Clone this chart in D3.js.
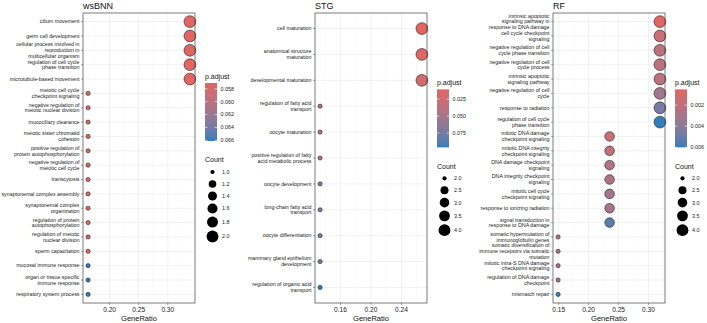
<!DOCTYPE html>
<html>
<head>
<meta charset="utf-8">
<script src="https://cdn.jsdelivr.net/npm/d3@7"></script>
<style>
  body { margin: 0; background: #fff; }
  svg { display: block; font-family: "Liberation Sans", Arial, sans-serif; }
</style>
</head>
<body>
<div id="chart"></div>
<script>
// ---- data ----
var wsbnnTerms = [
  "cilium movement", "germ cell development",
  "cellular process involved in\nreproduction in\nmulticellular organism",
  "regulation of cell cycle\nphase transition", "microtubule-based movement",
  "meiotic cell cycle\ncheckpoint signaling", "negative regulation of\nmeiotic nuclear division",
  "mucociliary clearance", "meiotic sister chromatid\ncohesion",
  "positive regulation of\nprotein autophosphorylation", "negative regulation of\nmeiotic cell cycle",
  "transcytosis", "synaptonemal complex assembly", "synaptonemal complex\norganization",
  "regulation of protein\nautophosphorylation", "regulation of meiotic\nnuclear division",
  "sperm capacitation", "mucosal immune response", "organ or tissue specific\nimmune response",
  "respiratory system process"];
var wsbnnRatio = [0.338, 0.338, 0.338, 0.338, 0.338, 0.163, 0.163, 0.163, 0.163, 0.163,
                  0.163, 0.163, 0.163, 0.163, 0.163, 0.163, 0.163, 0.163, 0.163, 0.163];
var wsbnnCount = [2, 2, 2, 2, 2, 1, 1, 1, 1, 1, 1, 1, 1, 1, 1, 1, 1, 1, 1, 1];
var wsbnnPadj = [0.0571, 0.0571, 0.0571, 0.0571, 0.0571, 0.0572, 0.0572, 0.0572, 0.0572, 0.0572,
                 0.0572, 0.0572, 0.0572, 0.0572, 0.0572, 0.0572, 0.0572, 0.0661, 0.0661, 0.0661];
var wsbnnXTicks = [0.20, 0.25, 0.30];
var wsbnnPadjBreaks = [0.058, 0.060, 0.062, 0.064, 0.066];
var wsbnnCountBreaks = [1.0, 1.2, 1.4, 1.6, 1.8, 2.0];

var stgTerms = [
  "cell maturation", "anatomical structure\nmaturation", "developmental maturation",
  "regulation of fatty acid\ntransport", "oocyte maturation",
  "positive regulation of fatty\nacid metabolic process", "oocyte development",
  "long-chain fatty acid\ntransport", "oocyte differentiation",
  "mammary gland epithelium\ndevelopment", "regulation of organic acid\ntransport"];
var stgRatio = [0.2667, 0.2667, 0.2667, 0.1333, 0.1333, 0.1333, 0.1333, 0.1333, 0.1333, 0.1333, 0.1333];
var stgCount = [4, 4, 4, 2, 2, 2, 2, 2, 2, 2, 2];
var stgPadj = [0.0107, 0.0115, 0.0235, 0.040, 0.041, 0.042, 0.070, 0.070, 0.071, 0.083, 0.096];
var stgXTicks = [0.16, 0.20, 0.24];
var stgPadjBreaks = [0.025, 0.050, 0.075];
var stgCountBreaks = [2.0, 2.5, 3.0, 3.5, 4.0];

var rfTerms = [
  "intrinsic apoptotic\nsignaling pathway in\nresponse to DNA damage",
  "cell cycle checkpoint\nsignaling", "negative regulation of cell\ncycle phase transition",
  "negative regulation of cell\ncycle process", "intrinsic apoptotic\nsignaling pathway",
  "negative regulation of cell\ncycle", "response to radiation",
  "regulation of cell cycle\nphase transition", "mitotic DNA damage\ncheckpoint signaling",
  "mitotic DNA integrity\ncheckpoint signaling", "DNA damage checkpoint\nsignaling",
  "DNA integrity checkpoint\nsignaling", "mitotic cell cycle\ncheckpoint signaling",
  "response to ionizing radiation", "signal transduction in\nresponse to DNA damage",
  "somatic hypermutation of\nimmunoglobulin genes",
  "somatic diversification of\nimmune receptors via somatic\nmutation",
  "mitotic intra-S DNA damage\ncheckpoint signaling", "regulation of DNA damage\ncheckpoint",
  "mismatch repair"];
var rfRatio = [0.319, 0.319, 0.319, 0.319, 0.319, 0.319, 0.319, 0.319, 0.235, 0.235,
               0.235, 0.235, 0.235, 0.235, 0.235, 0.149, 0.149, 0.149, 0.149, 0.149];
var rfCount = [4, 4, 4, 4, 4, 4, 4, 4, 3, 3, 3, 3, 3, 3, 3, 2, 2, 2, 2, 2];
var rfPadj = [0.0005, 0.0016, 0.0021, 0.0022, 0.0022, 0.0032, 0.0046, 0.00601, 0.0016, 0.0019,
              0.0025, 0.0026, 0.0032, 0.0030, 0.0053, 0.0022, 0.0025, 0.0025, 0.0032, 0.0059];
var rfXTicks = [0.15, 0.20, 0.25, 0.30];
var rfPadjBreaks = [0.002, 0.004, 0.006];
var rfCountBreaks = [2.0, 2.5, 3.0, 3.5, 4.0];

// ---- layout ----
var width = 707, height = 323;
var plotTop = 13, plotBottom = 303;
var lowCol = "#e06663", highCol = "#327eba";
var rMin = 2.1, rMax = 5.9;

var svg = d3.select("#chart").append("svg")
  .attr("width", width).attr("height", height);

var defs = svg.append("defs");

function drawPanel(p) {
  var g = svg.append("g");
  var data = p.terms.map(function(t, i) {
    return {term: t, ratio: p.ratio[i], count: p.count[i], padj: p.padj[i]};
  });

  // x scale with ggplot's 5% expansion
  var ext = d3.extent(p.ratio);
  var pad = (ext[1] - ext[0]) * 0.05;
  var x = d3.scaleLinear().domain([ext[0] - pad, ext[1] + pad]).range([p.left, p.right]);
  var y = d3.scalePoint().domain(p.terms).range([plotTop, plotBottom]).padding(0.6);

  var padjExt = d3.extent(p.padj);
  var color = d3.scaleLinear().domain(padjExt).range([lowCol, highCol]).interpolate(d3.interpolateLab);
  var cExt = d3.extent(p.count);
  var size = function(c) { return rMin + (rMax - rMin) * Math.sqrt((c - cExt[0]) / (cExt[1] - cExt[0])); };

  // grid
  var step = p.xTicks[1] - p.xTicks[0];
  var minors = [];
  for (var v = p.xTicks[0] - step / 2; v <= x.domain()[1]; v += step) {
    if (v >= x.domain()[0]) minors.push(v);
  }
  g.selectAll(".minor").data(minors).enter().append("line")
    .attr("x1", function(d) { return x(d); }).attr("x2", function(d) { return x(d); })
    .attr("y1", plotTop).attr("y2", plotBottom)
    .attr("stroke", "#f0f0f0").attr("stroke-width", 0.35);
  g.selectAll(".vgrid").data(p.xTicks).enter().append("line")
    .attr("x1", function(d) { return x(d); }).attr("x2", function(d) { return x(d); })
    .attr("y1", plotTop).attr("y2", plotBottom)
    .attr("stroke", "#e8e8e8").attr("stroke-width", 0.6);
  g.selectAll(".hgrid").data(p.terms).enter().append("line")
    .attr("x1", p.left).attr("x2", p.right)
    .attr("y1", function(d) { return y(d); }).attr("y2", function(d) { return y(d); })
    .attr("stroke", "#e8e8e8").attr("stroke-width", 0.6);

  // points
  g.selectAll("circle.pt").data(data).enter().append("circle")
    .attr("cx", function(d) { return x(d.ratio); })
    .attr("cy", function(d) { return y(d.term); })
    .attr("r", function(d) { return size(d.count); })
    .attr("fill", function(d) { return color(d.padj); })
    .attr("stroke", "#111").attr("stroke-width", 0.55);

  // border
  g.append("rect").attr("x", p.left).attr("y", plotTop)
    .attr("width", p.right - p.left).attr("height", plotBottom - plotTop)
    .attr("fill", "none").attr("stroke", "#444").attr("stroke-width", 0.7);

  // y axis ticks + wrapped labels
  var lineH = 5.8;
  data.forEach(function(d) {
    var yy = y(d.term);
    g.append("line").attr("x1", p.left - 2).attr("x2", p.left)
      .attr("y1", yy).attr("y2", yy).attr("stroke", "#444").attr("stroke-width", 0.5);
    var lines = d.term.split("\n");
    var t = g.append("text").attr("text-anchor", "end")
      .attr("font-size", "5.3px").attr("fill", "#1a1a1a");
    lines.forEach(function(l, k) {
      t.append("tspan").attr("x", p.left - 3.5)
        .attr("y", yy + 1.8 + (k - (lines.length - 1) / 2) * lineH).text(l);
    });
  });

  // x axis
  p.xTicks.forEach(function(v) {
    g.append("line").attr("x1", x(v)).attr("x2", x(v))
      .attr("y1", plotBottom).attr("y2", plotBottom + 2)
      .attr("stroke", "#444").attr("stroke-width", 0.5);
    g.append("text").attr("x", x(v)).attr("y", plotBottom + 9.2)
      .attr("text-anchor", "middle").attr("font-size", "6.6px").attr("fill", "#1a1a1a")
      .text(d3.format(".2f")(v));
  });
  g.append("text").attr("x", (p.left + p.right) / 2).attr("y", 320.6)
    .attr("text-anchor", "middle").attr("font-size", "7.5px").attr("fill", "#111")
    .text("GeneRatio");

  // title
  g.append("text").attr("x", p.left).attr("y", 8.9)
    .attr("font-size", "9px").attr("fill", "#111").text(p.title);

  // ---- legends ----
  var lx = p.right + 10;
  var barH = 58, barW = 12;
  var keyH = function(c) { return Math.max(12, 2 * size(c) + 3); };
  var spacing = 0;
  for (var i = 1; i < p.countBreaks.length; i++) {
    spacing += (keyH(p.countBreaks[i - 1]) + keyH(p.countBreaks[i])) / 2;
  }
  var total = 6.5 + barH + 19 + 12 + spacing;
  var titleY = 156.5 - total / 2;
  var barTop = titleY + 6.5;

  g.append("text").attr("x", lx).attr("y", titleY + 2.4)
    .attr("font-size", "7px").attr("fill", "#111").text("p.adjust");

  var gid = "grad" + p.title;
  var grad = defs.append("linearGradient").attr("id", gid)
    .attr("x1", 0).attr("x2", 0).attr("y1", 0).attr("y2", 1);
  d3.range(0, 1.0001, 0.1).forEach(function(s) {
    grad.append("stop").attr("offset", s)
      .attr("stop-color", d3.interpolateLab(lowCol, highCol)(s));
  });
  g.append("rect").attr("x", lx).attr("y", barTop).attr("width", barW).attr("height", barH)
    .attr("fill", "url(#" + gid + ")");
  var by = d3.scaleLinear().domain(padjExt).range([barTop, barTop + barH]);
  p.padjBreaks.forEach(function(v) {
    var yy = by(v);
    g.append("line").attr("x1", lx).attr("x2", lx + 2.4).attr("y1", yy).attr("y2", yy)
      .attr("stroke", "#fff").attr("stroke-width", 0.6);
    g.append("line").attr("x1", lx + barW - 2.4).attr("x2", lx + barW).attr("y1", yy).attr("y2", yy)
      .attr("stroke", "#fff").attr("stroke-width", 0.6);
    g.append("text").attr("x", lx + barW + 3.5).attr("y", yy + 1.9)
      .attr("font-size", "5.4px").attr("fill", "#1a1a1a").text(p.padjFmt(v));
  });

  var countTitleY = barTop + barH + 19;
  g.append("text").attr("x", lx).attr("y", countTitleY + 2.4)
    .attr("font-size", "7px").attr("fill", "#111").text("Count");
  var cy = countTitleY + 12;
  p.countBreaks.forEach(function(c, k) {
    if (k > 0) cy += (keyH(p.countBreaks[k - 1]) + keyH(c)) / 2;
    g.append("circle").attr("cx", lx + 7.5).attr("cy", cy).attr("r", size(c)).attr("fill", "#000");
    g.append("text").attr("x", lx + 17).attr("y", cy + 1.9)
      .attr("font-size", "5.4px").attr("fill", "#1a1a1a").text(d3.format(".1f")(c));
  });
}

drawPanel({title: "wsBNN", left: 83, right: 195, terms: wsbnnTerms, ratio: wsbnnRatio,
  count: wsbnnCount, padj: wsbnnPadj, xTicks: wsbnnXTicks, padjBreaks: wsbnnPadjBreaks,
  countBreaks: wsbnnCountBreaks, padjFmt: d3.format(".3f")});
drawPanel({title: "STG", left: 315, right: 427, terms: stgTerms, ratio: stgRatio,
  count: stgCount, padj: stgPadj, xTicks: stgXTicks, padjBreaks: stgPadjBreaks,
  countBreaks: stgCountBreaks, padjFmt: d3.format(".3f")});
drawPanel({title: "RF", left: 553, right: 665, terms: rfTerms, ratio: rfRatio,
  count: rfCount, padj: rfPadj, xTicks: rfXTicks, padjBreaks: rfPadjBreaks,
  countBreaks: rfCountBreaks, padjFmt: d3.format(".3f")});
</script>
</body>
</html>
